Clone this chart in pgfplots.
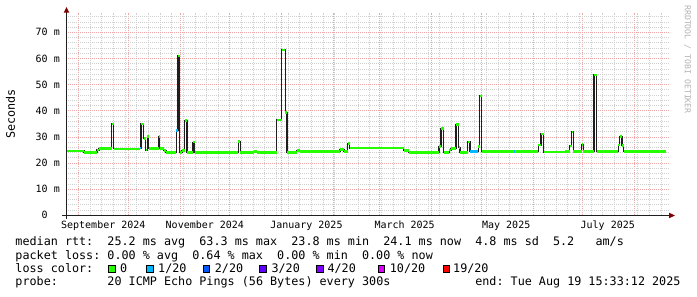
\documentclass[border=0pt]{standalone}
\usepackage{fontspec}
\setmainfont{DejaVu Sans Mono}
\setmonofont{DejaVu Sans Mono}
\usepackage{pgfplots}
\usepackage{pgfplotstable}
\pgfplotsset{compat=1.18}
\definecolor{lc0}{HTML}{26FF00}
\definecolor{lc1}{HTML}{00B8FF}
\definecolor{lc2}{HTML}{0059FF}
\definecolor{lc3}{HTML}{5E00FF}
\definecolor{lc4}{HTML}{7E00FF}
\definecolor{lc10}{HTML}{DD00FF}
\definecolor{lc19}{HTML}{FF0000}
\definecolor{mgrid}{RGB}{238,165,165}
\definecolor{mingrid}{RGB}{208,208,208}
\definecolor{arrowc}{RGB}{128,0,0}
\definecolor{axisc}{RGB}{31,31,31}
\definecolor{smoke}{RGB}{30,30,30}

\pgfplotstableread{
d v
-7.39 24.6
3.42 24.1
11.23 25.0
12.43 25.6
19.94 35.0
21.14 25.4
36.76 25.7
37.66 34.9
39.16 29.4
40.36 25.0
41.44 30.1
42.34 25.6
48.29 30.2
48.95 25.6
51.29 24.7
52.67 24.1
58.86 32.5
59.88 60.9
60.78 24.1
62.28 24.8
63.90 36.2
65.29 24.1
68.89 28.0
69.91 24.1
96.10 28.3
97.30 24.1
105.53 24.5
107.33 24.1
119.04 36.5
122.04 63.3
124.32 39.3
125.35 24.0
131.17 24.7
133.15 24.3
157.18 25.2
159.58 24.4
161.80 27.4
162.88 25.7
195.32 24.8
198.32 24.1
216.64 26.3
217.84 33.3
219.46 24.1
222.82 25.0
223.84 25.6
226.85 34.8
228.35 26.0
229.25 24.1
233.87 28.1
235.26 24.5
240.24 26.4
240.96 45.6
242.28 24.4
276.28 26.9
277.90 31.1
279.52 24.2
292.31 24.4
295.02 26.5
296.34 31.9
297.30 24.4
302.22 27.1
303.30 24.4
309.73 53.7
311.35 24.4
324.32 26.9
325.05 30.1
326.55 26.6
327.45 24.4
353.00 24.4
}\rtt

\begin{document}
\frenchspacing
\begin{tikzpicture}
\useasboundingbox (0,0) rectangle (697pt,297pt);
\begin{axis}[
  at={(66pt,81.7pt)}, anchor=south west,
  scale only axis, width=602.3pt, height=202.6pt,
  xmin=-7.39, xmax=354.35, ymin=0, ymax=77.5,
  axis line style={draw=none},
  xtick={0,30,61,91,122,153,181,212,242,273,303,334},
  xticklabels={},
  extra x ticks={15,76,137,196,257,318},
  extra x tick labels={September 2024,November 2024,January 2025,March 2025,May 2025,July 2025},
  extra x tick style={grid=none, major tick length=0pt},
  minor xtick={-7,7,14,21,28,35,42,49,56,63,70,77,84,98,105,112,119,126,133,140,147,154,161,168,175,182,189,196,203,210,217,224,231,238,245,252,259,266,280,287,294,301,308,315,322,329,336,343,350},
  ytick={0,10,20,30,40,50,60,70},
  yticklabels={0\hphantom{mm},10 m,20 m,30 m,40 m,50 m,60 m,70 m},
  minor ytick={2,4,6,8,12,14,16,18,22,24,26,28,32,34,36,38,42,44,46,48,52,54,56,58,62,64,66,68,72,74,76},
  grid=both,
  major grid style={mgrid, line width=0.7pt, dash pattern=on 1pt off 1pt},
  minor grid style={mingrid, line width=0.7pt, dash pattern=on 1pt off 1pt},
  major tick length=0pt, minor tick length=0pt,
  xticklabel style={font=\fontsize{10}{12}\selectfont, inner sep=0pt, anchor=north, yshift=-5.5pt},
  yticklabel style={font=\fontsize{10}{12}\selectfont, inner sep=0pt, anchor=east, xshift=-6pt},
]
\addplot[const plot mark left, smoke, line width=1.2pt, no marks] table[x=d,y=v]{\rtt};
\addplot[jump mark left, lc0, line width=2.6pt, no marks] table[x=d,y=v]{\rtt};
\addplot[jump mark left, lc1, line width=2.6pt, no marks] coordinates {(36.76,25.7) (37.66,25.7)};
\addplot[jump mark left, lc1, line width=2.6pt, no marks] coordinates {(58.86,32.5) (59.88,32.5)};
\addplot[jump mark left, lc1, line width=2.6pt, no marks] coordinates {(235.26,24.5) (239.88,24.5)};
\addplot[jump mark left, lc1, line width=2.6pt, no marks] coordinates {(261.6,24.4) (262.4,24.4)};
\end{axis}
% axis lines with arrows
\draw[axisc, line width=1pt] (62pt,81.5pt) -- (669pt,81.5pt);
\fill[arrowc] (669pt,78.7pt) -- (675pt,81.5pt) -- (669pt,84.3pt) -- cycle;
\draw[axisc, line width=1pt] (66.5pt,78pt) -- (66.5pt,284.5pt);
\fill[arrowc] (63.7pt,284.3pt) -- (66.5pt,290pt) -- (69.3pt,284.3pt) -- cycle;
% y label
\node[rotate=90, inner sep=0pt, font=\fontsize{11.75}{14}\selectfont] at (10.5pt,183pt) {Seconds};
% watermark
\node[rotate=-90, anchor=west, inner sep=0pt, text=black!30, font=\fontsize{8.2}{10}\selectfont] at (687.5pt,292pt) {RRDTOOL / TOBI OETIKER};
% legend
\begin{scope}[every node/.style={anchor=base west, inner sep=0pt, font=\fontsize{11.75}{14}\selectfont}]
\node at (15.3pt,51pt) {median rtt:~~25.2 ms avg~~63.3 ms max~~23.8 ms min~~24.1 ms now~~4.8 ms sd~~5.2~~~am/s};
\node at (15.3pt,37.5pt) {packet loss:~0.00~\%~avg~~0.64~\%~max~~0.00~\%~min~~0.00~\%~now};
\node at (15.3pt,24.5pt) {loss color:};
\node at (15.3pt,11pt) {probe:~~~~~~~20 ICMP Echo Pings (56 Bytes) every 300s~~~~~~~~~~~~end: Tue Aug 19 15:33:12 2025};
\node at (119.8pt,24.5pt) {0};
\node at (158pt,24.5pt) {1/20};
\node at (214.7pt,24.5pt) {2/20};
\node at (271.4pt,24.5pt) {3/20};
\node at (327.4pt,24.5pt) {4/20};
\node at (389.7pt,24.5pt) {10/20};
\node at (453pt,24.5pt) {19/20};
\end{scope}
\begin{scope}[line width=0.8pt, draw=black]
\filldraw[fill=lc0] (108.6pt,24.8pt) rectangle (115.4pt,31.8pt);
\filldraw[fill=lc1] (146.2pt,24.8pt) rectangle (153pt,31.8pt);
\filldraw[fill=lc2] (202.9pt,24.8pt) rectangle (209.7pt,31.8pt);
\filldraw[fill=lc3] (259.6pt,24.8pt) rectangle (266.4pt,31.8pt);
\filldraw[fill=lc4] (316.2pt,24.8pt) rectangle (323pt,31.8pt);
\filldraw[fill=lc10] (377.9pt,24.8pt) rectangle (384.7pt,31.8pt);
\filldraw[fill=lc19] (442.9pt,24.8pt) rectangle (449.7pt,31.8pt);
\end{scope}
\end{tikzpicture}
\end{document}
